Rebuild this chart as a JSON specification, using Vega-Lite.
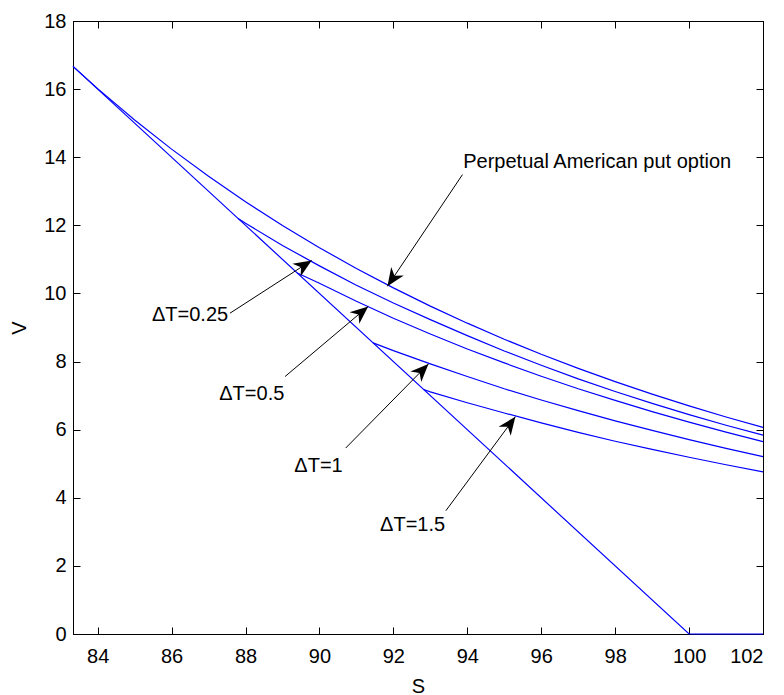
{
  "$schema": "https://vega.github.io/schema/vega-lite/v6.json",
  "width": 690,
  "height": 613,
  "autosize": {"type": "none"},
  "padding": {"left": 73, "top": 21, "right": 21, "bottom": 61},
  "background": "white",
  "config": {
    "view": {"stroke": "black", "strokeWidth": 1},
    "font": "Liberation Sans",
    "axis": {
      "grid": false,
      "domainColor": "black",
      "tickColor": "black",
      "tickSize": -7,
      "labelFont": "Liberation Sans",
      "labelFontSize": 20,
      "labelColor": "black",
      "titleFont": "Liberation Sans",
      "titleFontSize": 20,
      "titleFontWeight": "normal",
      "titleColor": "black"
    }
  },
  "datasets": {
    "curves": [
      {"S": 83.333, "V": 16.667, "series": "perpetual"},
      {"S": 84, "V": 16.015, "series": "perpetual"},
      {"S": 85, "V": 15.095, "series": "perpetual"},
      {"S": 86, "V": 14.238, "series": "perpetual"},
      {"S": 87, "V": 13.439, "series": "perpetual"},
      {"S": 88, "V": 12.692, "series": "perpetual"},
      {"S": 89, "V": 11.995, "series": "perpetual"},
      {"S": 90, "V": 11.343, "series": "perpetual"},
      {"S": 91, "V": 10.733, "series": "perpetual"},
      {"S": 92, "V": 10.163, "series": "perpetual"},
      {"S": 93, "V": 9.628, "series": "perpetual"},
      {"S": 94, "V": 9.127, "series": "perpetual"},
      {"S": 95, "V": 8.656, "series": "perpetual"},
      {"S": 96, "V": 8.214, "series": "perpetual"},
      {"S": 97, "V": 7.8, "series": "perpetual"},
      {"S": 98, "V": 7.41, "series": "perpetual"},
      {"S": 99, "V": 7.043, "series": "perpetual"},
      {"S": 100, "V": 6.698, "series": "perpetual"},
      {"S": 101, "V": 6.373, "series": "perpetual"},
      {"S": 102, "V": 6.067, "series": "perpetual"},
      {"S": 87.8, "V": 12.2, "series": "dT0.25"},
      {"S": 88, "V": 12.06, "series": "dT0.25"},
      {"S": 89, "V": 11.41, "series": "dT0.25"},
      {"S": 90, "V": 10.81, "series": "dT0.25"},
      {"S": 91, "V": 10.24, "series": "dT0.25"},
      {"S": 92, "V": 9.72, "series": "dT0.25"},
      {"S": 93, "V": 9.23, "series": "dT0.25"},
      {"S": 94, "V": 8.76, "series": "dT0.25"},
      {"S": 95, "V": 8.31, "series": "dT0.25"},
      {"S": 96, "V": 7.89, "series": "dT0.25"},
      {"S": 97, "V": 7.49, "series": "dT0.25"},
      {"S": 98, "V": 7.12, "series": "dT0.25"},
      {"S": 99, "V": 6.77, "series": "dT0.25"},
      {"S": 100, "V": 6.44, "series": "dT0.25"},
      {"S": 101, "V": 6.13, "series": "dT0.25"},
      {"S": 102, "V": 5.84, "series": "dT0.25"},
      {"S": 89.4, "V": 10.6, "series": "dT0.5"},
      {"S": 90, "V": 10.3, "series": "dT0.5"},
      {"S": 91, "V": 9.77, "series": "dT0.5"},
      {"S": 92, "V": 9.27, "series": "dT0.5"},
      {"S": 93, "V": 8.81, "series": "dT0.5"},
      {"S": 94, "V": 8.37, "series": "dT0.5"},
      {"S": 95, "V": 7.96, "series": "dT0.5"},
      {"S": 96, "V": 7.57, "series": "dT0.5"},
      {"S": 97, "V": 7.2, "series": "dT0.5"},
      {"S": 98, "V": 6.86, "series": "dT0.5"},
      {"S": 99, "V": 6.53, "series": "dT0.5"},
      {"S": 100, "V": 6.22, "series": "dT0.5"},
      {"S": 101, "V": 5.93, "series": "dT0.5"},
      {"S": 102, "V": 5.65, "series": "dT0.5"},
      {"S": 91.45, "V": 8.55, "series": "dT1"},
      {"S": 92, "V": 8.32, "series": "dT1"},
      {"S": 93, "V": 7.93, "series": "dT1"},
      {"S": 94, "V": 7.56, "series": "dT1"},
      {"S": 95, "V": 7.2, "series": "dT1"},
      {"S": 96, "V": 6.87, "series": "dT1"},
      {"S": 97, "V": 6.56, "series": "dT1"},
      {"S": 98, "V": 6.26, "series": "dT1"},
      {"S": 99, "V": 5.98, "series": "dT1"},
      {"S": 100, "V": 5.71, "series": "dT1"},
      {"S": 101, "V": 5.45, "series": "dT1"},
      {"S": 102, "V": 5.21, "series": "dT1"},
      {"S": 92.82, "V": 7.18, "series": "dT1.5"},
      {"S": 93, "V": 7.11, "series": "dT1.5"},
      {"S": 94, "V": 6.79, "series": "dT1.5"},
      {"S": 95, "V": 6.49, "series": "dT1.5"},
      {"S": 96, "V": 6.2, "series": "dT1.5"},
      {"S": 97, "V": 5.92, "series": "dT1.5"},
      {"S": 98, "V": 5.66, "series": "dT1.5"},
      {"S": 99, "V": 5.42, "series": "dT1.5"},
      {"S": 100, "V": 5.19, "series": "dT1.5"},
      {"S": 101, "V": 4.97, "series": "dT1.5"},
      {"S": 102, "V": 4.76, "series": "dT1.5"},
      {"S": 83.333, "V": 16.667, "series": "payoff"},
      {"S": 100, "V": 0, "series": "payoff"},
      {"S": 102, "V": 0, "series": "payoff"}
    ],
    "arrows": [
      {"S": 93.87, "V": 13.49, "S2": 91.84, "V2": 10.21, "angle": 123.9},
      {"S": 87.58, "V": 9.42, "S2": 89.79, "V2": 10.97, "angle": 327.2},
      {"S": 89.07, "V": 7.56, "S2": 91.32, "V2": 9.62, "angle": 320},
      {"S": 90.71, "V": 5.46, "S2": 92.95, "V2": 7.93, "angle": 314.5},
      {"S": 93.42, "V": 3.62, "S2": 95.3, "V2": 6.38, "angle": 306.5}
    ],
    "labelsLeft": [
      {"S": 93.89, "V": 13.86, "label": "Perpetual American put option"}
    ],
    "labelsRight": [
      {"S": 87.53, "V": 9.37, "label": "ΔT=0.25"},
      {"S": 89.05, "V": 7.05, "label": "ΔT=0.5"},
      {"S": 90.63, "V": 4.94, "label": "ΔT=1"},
      {"S": 93.4, "V": 3.2, "label": "ΔT=1.5"}
    ]
  },
  "resolve": {"axis": {"x": "independent", "y": "independent"}},
  "layer": [
    {
      "data": {"name": "curves"},
      "mark": {"type": "line", "color": "#0000ff", "strokeWidth": 1.2, "clip": false},
      "encoding": {
        "x": {"field": "S", "type": "quantitative",
          "scale": {"domain": [83.333, 102], "nice": false, "zero": false},
          "axis": {"orient": "bottom", "values": [84, 86, 88, 90, 92, 94, 96, 98, 100, 102], "title": "S", "labelPadding": 19, "titlePadding": 10}},
        "y": {"field": "V", "type": "quantitative",
          "scale": {"domain": [0, 18], "nice": false, "zero": false},
          "axis": {"orient": "left", "values": [0, 2, 4, 6, 8, 10, 12, 14, 16, 18], "title": "V", "labelPadding": 14, "titlePadding": 14}},
        "detail": {"field": "series"}
      }
    },
    {
      "data": {"name": "arrows"},
      "mark": {"type": "rule", "color": "black", "strokeWidth": 1},
      "encoding": {
        "x": {"field": "S", "type": "quantitative",
          "scale": {"domain": [83.333, 102], "nice": false, "zero": false},
          "axis": {"orient": "top", "values": [84, 86, 88, 90, 92, 94, 96, 98, 100, 102], "labels": false, "title": null}},
        "y": {"field": "V", "type": "quantitative",
          "scale": {"domain": [0, 18], "nice": false, "zero": false},
          "axis": {"orient": "right", "values": [0, 2, 4, 6, 8, 10, 12, 14, 16, 18], "labels": false, "title": null}},
        "x2": {"field": "S2"},
        "y2": {"field": "V2"}
      }
    },
    {
      "data": {"name": "arrows"},
      "mark": {"type": "point", "filled": true, "color": "black", "opacity": 1, "size": 1300,
        "shape": "M0,0 L-1,-0.42 L-0.7,0 L-1,0.42 Z", "strokeWidth": 0},
      "encoding": {
        "x": {"field": "S2", "type": "quantitative", "axis": null},
        "y": {"field": "V2", "type": "quantitative", "axis": null},
        "angle": {"field": "angle", "type": "quantitative", "scale": null}
      }
    },
    {
      "data": {"name": "labelsLeft"},
      "mark": {"type": "text", "align": "left", "baseline": "middle", "fontSize": 20, "font": "Liberation Sans", "color": "black"},
      "encoding": {
        "x": {"field": "S", "type": "quantitative", "axis": null},
        "y": {"field": "V", "type": "quantitative", "axis": null},
        "text": {"field": "label"}
      }
    },
    {
      "data": {"name": "labelsRight"},
      "mark": {"type": "text", "align": "right", "baseline": "middle", "fontSize": 20, "font": "Liberation Sans", "color": "black"},
      "encoding": {
        "x": {"field": "S", "type": "quantitative", "axis": null},
        "y": {"field": "V", "type": "quantitative", "axis": null},
        "text": {"field": "label"}
      }
    }
  ]
}
